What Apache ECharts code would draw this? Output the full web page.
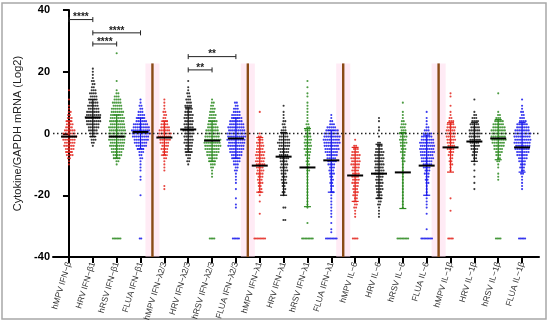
<!DOCTYPE html>
<html><head><meta charset="utf-8">
<script src="https://cdn.jsdelivr.net/npm/echarts@6/dist/echarts.min.js"></script>
<style>html,body{margin:0;padding:0;background:#fff}#c{width:550px;height:324px}</style>
</head><body><div id="c"></div>
<script>
const categories = ['hMPV IFN\u2212\u03b2','HRV IFN\u2212\u03b21','hRSV IFN\u2212\u03b21','FLUA IFN\u2212\u03b21',
  'hMPV IFN\u2212\u03bb2/3','HRV IFN\u2212\u03bb2/3','hRSV IFN\u2212\u03bb2/3','FLUA IFN\u2212\u03bb2/3',
  'hMPV IFN\u2212\u03bb1','HRV IFN\u2212\u03bb1','hRSV IFN\u2212\u03bb1','FLUA IFN\u2212\u03bb1',
  'hMPV IL\u22126','HRV IL\u22126','hRSV IL\u22126','FLUA IL\u22126',
  'hMPV IL\u22121\u03b2','HRV IL\u22121\u03b2','hRSV IL\u22121\u03b2','FLUA IL\u22121\u03b2'];
const yTicks = [-40,-20,0,20,40];
const binTop = [14,21,26,11, 11,17,11,10, 7,9,17,6, -2,5,10,7, 13,11,13,11];
const binCounts = [
  [1,0,0,1,0,1,1,2,2,3,3,4,4,6,7,8,7,6,6,5,4,4,2,1,1],
  [1,1,1,1,2,2,2,3,4,4,5,5,6,6,7,8,8,8,7,6,5,4,3,3,2,1],
  [1,0,0,0,0,0,0,0,0,1,0,0,1,2,3,4,5,5,6,7,7,8,8,8,9,9,9,9,9,8,8,7,6,5,4,2,1],
  [1,1,2,2,3,4,5,6,8,9,10,10,9,8,7,6,4,3,2,2,1,1,1,1,0,1,1,0,0,0,0,1],
  [1,1,1,1,2,2,2,3,4,5,6,7,7,6,5,4,4,3,2,2,1,1,1,1,0,0,0,0,1,1],
  [1,0,1,1,2,2,3,3,4,4,4,5,5,5,5,5,6,5,5,5,5,4,4,4,3,2,2,1],
  [1,2,2,3,3,4,4,5,5,6,7,8,8,9,9,9,8,7,6,5,4,3,2,1,1,1],
  [2,2,3,4,5,6,7,8,9,9,10,10,10,9,9,8,7,6,5,4,3,2,2,1,1,1,1,0,1,0,0,1,0,1,1],
  [1,0,0,0,0,0,0,1,2,3,4,4,4,5,5,5,5,5,4,4,4,3,3,3,2,2,2,1,0,1,0,0,0,1],
  [1,0,1,1,1,2,2,2,3,4,5,6,7,6,6,5,5,5,4,4,4,4,3,3,3,3,2,2,2,1,0,0,0,2,0,0,0,2],
  [1,0,1,0,1,1,0,1,1,1,1,1,1,1,2,2,3,3,4,4,4,4,4,3,3,2,2,2,2,2,1,1,1,1,1,1,1,1,1,1,1,1,0,0,0,0,1],
  [1,1,2,3,5,7,8,9,9,9,8,8,7,6,5,5,4,3,3,3,2,2,2,2,1,2,1,1,1,1,1,1,1,1,0,1,0,1,1],
  [1,0,2,3,4,5,5,5,5,4,4,4,4,4,4,3,3,3,3,2,2,2,2,1,1,1],
  [1,1,0,1,1,0,1,0,2,3,4,5,5,5,5,5,5,5,5,4,4,4,4,4,3,3,3,2,2,1,1,1,1],
  [1,0,0,1,1,1,2,3,3,3,4,4,4,4,3,3,3,2,2,2,1,1,1,1,1,1,1,1,1,1,1,1,1,1,1],
  [1,0,1,1,1,2,3,5,6,7,8,8,8,8,7,7,6,5,4,3,3,2,2,2,1,1,1,1,1,1,1,1,0,1,0,0,0,0,1],
  [1,1,0,0,1,0,1,1,2,3,4,5,5,5,5,5,4,4,4,3,3,2,2,2,1,1,0,0,0,0,0,0,0,0,1,0,0,0,1],
  [1,0,0,0,1,2,3,4,5,5,6,6,6,6,5,5,4,3,3,2,1,1,0,1,0,1,0,1,0,1],
  [1,0,0,0,0,0,1,2,3,5,6,7,8,8,8,8,7,6,5,4,3,2,2,1,1,0,1,1,1],
  [1,0,1,1,2,2,3,4,6,7,8,9,9,9,9,8,8,7,6,5,4,3,3,2,2,1,1,1,1,1]
];
const ndValue = -34;
const ndCounts = [0,0,6,2, 0,0,4,5, 8,0,8,8, 4,0,8,8, 4,0,4,5];
const means = [-1,5.2,-1,0.5, -1.3,1.3,-2.3,-1.6, -10.4,-7.5,-11,-8.7, -13.6,-13,-12.6,-10.4, -4.5,-2.6,-1.6,-4.5];
const errHi = [4,11,6,5, 4,8.5,4,5, -1.3,0.3,1.6,1, -4.5,-3.5,0.3,-0.5, 3.5,3.5,4.5,3.5];
const errLo = [-6,-1,-8,-5, -7,-6,-9,-8, -19,-20,-23.7,-19, -22,-21,-24.3,-20, -12.5,-9,-8.5,-12.5];
const separators = [3.5,7.5,11.5,15.5];
const separatorTop = 22.7;
const bracketFrom = [0,1,1,5,5];
const bracketTo = [1,3,2,7,6];
const bracketY = [36.9,32.6,29,24.9,20.6];
const bracketText = ['****','****','****','**','**'];

const chart = echarts.init(document.getElementById('c'), null, {renderer:'canvas'});
const XMIN=-0.67, XMAX=19.71;
const GRID={left:53,right:11,top:10,bottom:67};
const pxPerUnit=(550-GRID.left-GRID.right)/(XMAX-XMIN);
const catLeft=GRID.left+(-0.5-XMIN)*pxPerUnit;
const catRight=550-catLeft-categories.length*pxPerUnit;
const DX=1.9/pxPerUnit;
const colors=['#e4261e','#141414','#2c8a20','#1717ec'];
const pts=[[],[],[],[]];
binCounts.forEach((arr,i)=>{
  const g=i%4;
  arr.forEach((n,k)=>{
    const v=binTop[i]-k;
    const st=(k%2)?DX*0.4:0;
    for(let j=0;j<n;j++) pts[g].push([i+(j-(n-1)/2)*DX+(n>1?st:0), v]);
  });
  const nd=ndCounts[i];
  for(let j=0;j<nd;j++) pts[g].push([i+(j-(nd-1)/2)*DX*0.8, ndValue]);
});
const scatterSeries=pts.map((d,g)=>({type:'scatter',data:d,symbol:'circle',symbolSize:2.1,
  itemStyle:{color:colors[g],opacity:0.85},z:3,silent:true,animation:false}));

const statData=means.map((m,i)=>[i,m,errLo[i],errHi[i]]);
const statSeries={type:'custom',data:statData,z:5,silent:true,animation:false,
  renderItem:(p,api)=>{
    const i=api.value(0), m=api.value(1), lo=api.value(2), hi=api.value(3);
    const c=colors[i%4];
    const pm1=api.coord([i,m]), pl=api.coord([i,lo]), ph=api.coord([i,hi]);
    const cw=3.5, mw=8;
    return {type:'group',children:[
      {type:'line',shape:{x1:pl[0],y1:pl[1],x2:ph[0],y2:ph[1]},style:{stroke:c,lineWidth:1.2}},
      {type:'line',shape:{x1:pl[0]-cw,y1:pl[1],x2:pl[0]+cw,y2:pl[1]},style:{stroke:c,lineWidth:1.2}},
      {type:'line',shape:{x1:ph[0]-cw,y1:ph[1],x2:ph[0]+cw,y2:ph[1]},style:{stroke:c,lineWidth:1.2}},
      {type:'line',shape:{x1:pm1[0]-mw,y1:pm1[1],x2:pm1[0]+mw,y2:pm1[1]},style:{stroke:'#000',lineWidth:2}}
    ]};
  }};

const sepSeries={type:'custom',data:separators.map(x=>[x,separatorTop]),z:1,silent:true,animation:false,
  renderItem:(p,api)=>{
    const t=api.coord([api.value(0),api.value(1)]), b=api.coord([api.value(0),-40]);
    return {type:'group',children:[
      {type:'rect',shape:{x:t[0]-7,y:t[1],width:14,height:b[1]-t[1]},style:{fill:'rgba(255,215,235,0.5)'}},
      {type:'line',shape:{x1:t[0],y1:t[1],x2:b[0],y2:b[1]},style:{stroke:'#8a4b16',lineWidth:2.4}}
    ]};
  }};

const brSeries={type:'custom',data:bracketFrom.map((f,i)=>[f,bracketTo[i],bracketY[i],i]),z:6,silent:true,animation:false,
  renderItem:(p,api)=>{
    const a=api.coord([api.value(0),api.value(2)]), b=api.coord([api.value(1),api.value(2)]);
    const txt=bracketText[api.value(3)];
    const h=2.5;
    return {type:'group',children:[
      {type:'line',shape:{x1:a[0],y1:a[1],x2:b[0],y2:b[1]},style:{stroke:'#222',lineWidth:1}},
      {type:'line',shape:{x1:a[0],y1:a[1]-h,x2:a[0],y2:a[1]+h},style:{stroke:'#222',lineWidth:1}},
      {type:'line',shape:{x1:b[0],y1:b[1]-h,x2:b[0],y2:b[1]+h},style:{stroke:'#222',lineWidth:1}},
      {type:'text',x:(a[0]+b[0])/2,y:a[1]+3,style:{text:txt,fill:'#222',font:'bold 10px "Liberation Sans", Arial',align:'center',verticalAlign:'bottom'}}
    ]};
  }};

const zeroSeries={type:'scatter',data:[],silent:true,
  markLine:{silent:true,symbol:'none',animation:false,label:{show:false},
    lineStyle:{type:[1.5,2.5],color:'#222',width:1.3},data:[{yAxis:0}]}};

const tickVals=categories.map((c,i)=>i);
chart.setOption({
  animation:false,
  grid:[GRID,{left:catLeft,right:catRight,top:GRID.top,bottom:GRID.bottom}],
  graphic:[{type:'rect',shape:{x:2,y:3,width:544,height:316},style:{fill:'none',stroke:'#a8a8a8',lineWidth:1.5},silent:true}],
  xAxis:[{type:'value',min:XMIN,max:XMAX,splitLine:{show:false},gridIndex:0,
    axisLine:{show:true,onZero:false,lineStyle:{color:'#000',width:2}},
    axisTick:{show:true,customValues:tickVals,length:6,lineStyle:{color:'#000',width:2}},
    axisLabel:{show:false}},
   {type:'category',data:categories,gridIndex:1,boundaryGap:true,
    axisLine:{show:false},axisTick:{show:false},splitLine:{show:false},
    axisLabel:{interval:0,rotate:73,fontSize:8.5,color:'#333',margin:9,fontFamily:'"Liberation Sans", Arial'}}],
  yAxis:[{type:'value',min:-40,max:40,interval:20,splitLine:{show:false},gridIndex:0,
    name:'Cytokine/GAPDH mRNA (Log2)',nameLocation:'middle',nameGap:28,
    nameTextStyle:{fontSize:11,color:'#222',fontFamily:'"Liberation Sans", Arial'},
    axisLine:{show:true,lineStyle:{color:'#000',width:2}},
    axisTick:{show:true,length:6,lineStyle:{color:'#000',width:2}},
    axisLabel:{fontSize:11,fontWeight:'bold',color:'#000',margin:3,fontFamily:'"Liberation Sans", Arial',
      formatter:(v)=>yTicks.includes(v)?String(v):''}},
   {type:'value',gridIndex:1,min:0,max:1,show:false}],
  series:[sepSeries,zeroSeries,...scatterSeries,statSeries,brSeries]
});
</script></body></html>
